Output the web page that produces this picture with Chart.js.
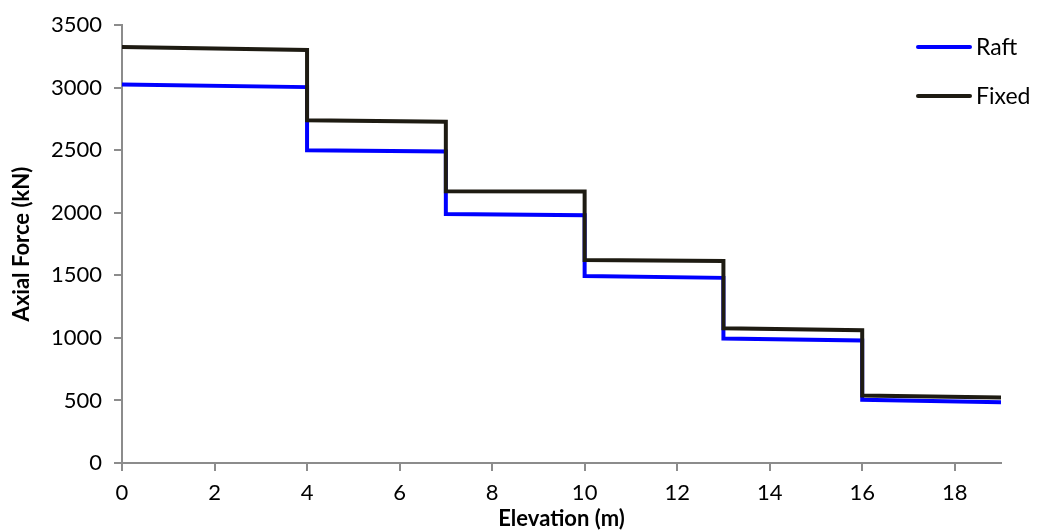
<!DOCTYPE html>
<html>
<head>
<meta charset="utf-8">
<script src="https://cdn.jsdelivr.net/npm/chart.js@4.4.1/dist/chart.umd.min.js"></script>
<style>
  html, body { margin: 0; padding: 0; background: #fff; }
  #wrap { width: 1041px; height: 532px; position: relative; }
</style>
</head>
<body>
<div id="wrap"><canvas id="axialChart"></canvas></div>
<script>
// Elevation (m) of each point; repeated x gives the vertical step
const elevation = [0, 4, 4, 7, 7, 10, 10, 13, 13, 16, 16, 19];
// Axial force (kN)
const raftForce  = [3025, 3005, 2500, 2490, 1990, 1980, 1495, 1480, 995, 980, 505, 485];
const fixedForce = [3325, 3302, 2740, 2728, 2173, 2170, 1622, 1615, 1077, 1062, 540, 524];
const xTicks = [0, 2, 4, 6, 8, 10, 12, 14, 16, 18];
const seriesNames = ['Raft', 'Fixed'];
const seriesColors = ['#0000ff', '#1e1b12'];

const toPoints = (ys) => elevation.map((x, i) => ({ x: x, y: ys[i] }));

const fontFamily = 'Lato, Carlito, "Open Sans", sans-serif';
const axisColor = '#8c8c8c';

// legend drawn inside the plot area, top right
const sideLegend = {
    id: 'sideLegend',
    afterDraw(chart) {
        const ctx = chart.ctx;
        ctx.save();
        ctx.font = '23px ' + fontFamily;
        ctx.textBaseline = 'middle';
        chart.data.datasets.forEach((ds, i) => {
            const y = 47 + i * 49;
            ctx.strokeStyle = ds.borderColor;
            ctx.lineWidth = 4;
            ctx.lineCap = 'round';
            ctx.beginPath();
            ctx.moveTo(918, y);
            ctx.lineTo(970, y);
            ctx.stroke();
            ctx.fillStyle = '#000';
            ctx.fillText(ds.label, 976, y + 1);
        });
        ctx.restore();
    }
};

new Chart(document.getElementById('axialChart'), {
    type: 'scatter',
    data: {
        datasets: [
            {
                label: seriesNames[0],
                data: toPoints(raftForce),
                showLine: true,
                borderColor: seriesColors[0],
                backgroundColor: seriesColors[0],
                borderWidth: 4,
                pointRadius: 0,
                order: 2
            },
            {
                label: seriesNames[1],
                data: toPoints(fixedForce),
                showLine: true,
                borderColor: seriesColors[1],
                backgroundColor: seriesColors[1],
                borderWidth: 4,
                pointRadius: 0,
                order: 1
            }
        ]
    },
    options: {
        responsive: true,
        maintainAspectRatio: false,
        animation: false,
        layout: { padding: { left: 0, right: 40, top: 21, bottom: 0 } },
        plugins: {
            legend: { display: false },
            tooltip: { enabled: false }
        },
        scales: {
            x: {
                type: 'linear',
                min: 0,
                max: 19,
                afterBuildTicks: (axis) => {
                    axis.ticks = xTicks.map(v => ({ value: v }));
                },
                afterFit: (axis) => { axis.height = 69; },
                border: { color: axisColor, width: 2 },
                grid: { drawOnChartArea: false, drawTicks: true, tickLength: 8, color: axisColor, lineWidth: 2 },
                ticks: {
                    color: '#000',
                    font: { family: fontFamily, size: 22 },
                    padding: 9,
                    maxRotation: 0,
                    callback: (v) => String(v)
                },
                title: {
                    display: true,
                    text: 'Elevation (m)',
                    color: '#000',
                    font: { family: fontFamily, size: 22, weight: 'bold' },
                    padding: { top: 0, bottom: 0 }
                }
            },
            y: {
                min: 0,
                max: 3500,
                ticks: {
                    stepSize: 500,
                    color: '#000',
                    font: { family: fontFamily, size: 22 },
                    padding: 12,
                    callback: (v) => String(v)
                },
                afterFit: (axis) => { axis.width = 122; },
                border: { color: axisColor, width: 2 },
                grid: { drawOnChartArea: false, drawTicks: true, tickLength: 8, color: axisColor, lineWidth: 2 },
                title: {
                    display: true,
                    text: 'Axial Force (kN)',
                    color: '#000',
                    font: { family: fontFamily, size: 22, weight: 'bold' },
                    padding: { top: 9, bottom: 0 }
                }
            }
        }
    },
    plugins: [sideLegend]
});
</script>
</body>
</html>
